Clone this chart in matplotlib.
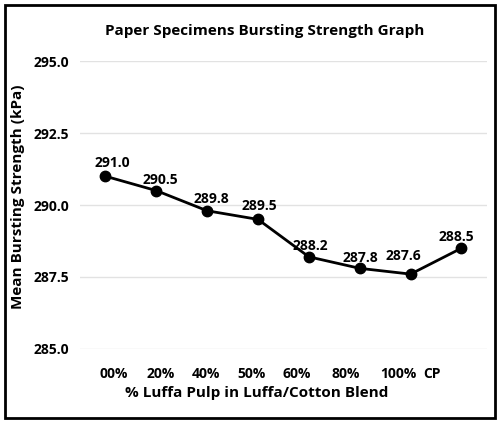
import matplotlib
matplotlib.use("Agg")
import matplotlib.pyplot as plt
from matplotlib.patches import Rectangle

categories = ["00%", "20%", "40%", "50%", "60%", "80%", "100%", "CP"]
strength = [291.0, 290.5, 289.8, 289.5, 288.2, 287.8, 287.6, 288.5]
# tick labels in the source sit slightly off the points
tick_pos = [0.16, 1.08, 1.97, 2.87, 3.76, 4.72, 5.76, 6.43]
label_dx = [0.14, 0.08, 0.08, 0.02, 0.02, 0.02, -0.14, -0.10]
label_dy = [0.45, 0.38, 0.42, 0.45, 0.38, 0.36, 0.62, 0.40]

plt.rcParams["font.family"] = ["Open Sans", "DejaVu Sans"]

fig = plt.figure(figsize=(5.03, 4.24), dpi=100)
ax = fig.add_axes([0.159, 0.177, 0.809, 0.679])

x = list(range(len(strength)))
ax.plot(x, strength, color="black", linewidth=2, marker="o", markersize=7.5,
        zorder=3)
for xi, yi, dx, dy in zip(x, strength, label_dx, label_dy):
    ax.text(xi + dx, yi + dy, f"{yi:.1f}", ha="center", va="center",
            fontsize=10, fontweight="bold")

ax.set_xlim(-0.5, 7.5)
ax.set_ylim(285.0, 295.0)
ax.set_yticks([285.0, 287.5, 290.0, 292.5, 295.0])
ax.set_yticklabels([f"{v:.1f}" for v in [285.0, 287.5, 290.0, 292.5, 295.0]],
                   fontsize=10, fontweight="bold")
ax.set_xticks(tick_pos)
ax.set_xticklabels(categories, fontsize=10, fontweight="bold")
ax.tick_params(length=0, pad=8)
ax.tick_params(axis="x", pad=13)
ax.grid(axis="y", color="#e2e2e2", linewidth=1)
ax.set_axisbelow(True)
for s in ax.spines.values():
    s.set_visible(False)

ax.set_xlabel("% Luffa Pulp in Luffa/Cotton Blend", fontsize=11,
              fontweight="bold")
ax.xaxis.set_label_coords(0.435, -0.128)
ax.set_ylabel("Mean Bursting Strength (kPa)", fontsize=11, fontweight="bold")
ax.yaxis.set_label_coords(-0.135, 0.53)
fig.text(0.527, 0.928, "Paper Specimens Bursting Strength Graph", ha="center",
         va="center", fontsize=11, fontweight="bold")

fig.patches.append(Rectangle((5 / 503, 1 - 418 / 424), 490 / 503, 413 / 424,
                             transform=fig.transFigure, fill=False,
                             edgecolor="black", linewidth=2))

fig.savefig("out.png", dpi=100)
